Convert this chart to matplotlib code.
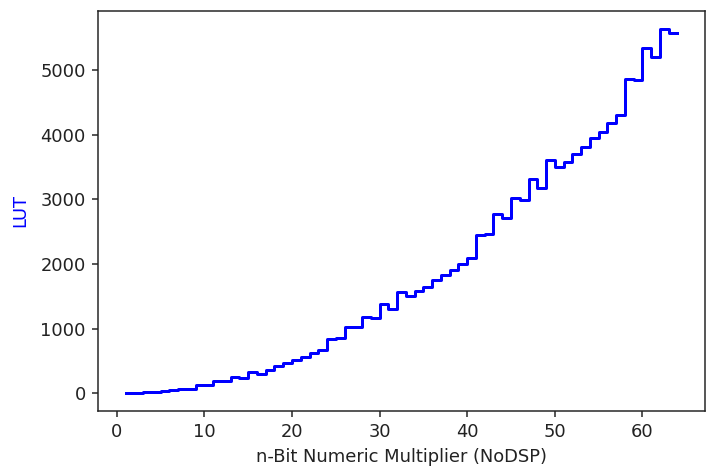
import matplotlib
matplotlib.use("Agg")
import matplotlib.pyplot as plt

# Bit width of the multiplier
bits = list(range(1, 65))

# LUT usage for each bit width
lut = [
    8, 8, 20, 20, 35, 50, 70, 70, 130, 135,
    186, 186, 250, 240, 330, 305, 356, 423, 475, 522,
    562, 624, 665, 840, 862, 1020, 1020, 1180, 1166, 1375,
    1311, 1568, 1510, 1584, 1646, 1755, 1825, 1910, 2000, 2100,
    2446, 2461, 2781, 2710, 3015, 2988, 3320, 3184, 3605, 3503,
    3581, 3698, 3813, 3942, 4040, 4175, 4298, 4868, 4853, 5336,
    5206, 5633, 5568, 5568,
]

plt.rcParams.update({
    "font.size": 10.7,
    "axes.linewidth": 0.9,
    "xtick.major.width": 0.9,
    "ytick.major.width": 0.9,
    "xtick.major.size": 3.8,
    "ytick.major.size": 3.8,
    "axes.edgecolor": "#222222",
    "xtick.color": "#222222",
    "ytick.color": "#222222",
})

fig = plt.figure(figsize=(706 / 120, 473 / 120), dpi=120)
ax = fig.add_axes([98 / 706, 62 / 473, 607 / 706, 400 / 473])

ax.step(bits, lut, where="post", color="blue", linewidth=1.8)

ax.set_xlabel("n-Bit Numeric Multiplier (NoDSP)", color="#222222")
ax.set_ylabel("LUT", color="blue", labelpad=6.5)

fig.savefig("out.png", dpi=120)
